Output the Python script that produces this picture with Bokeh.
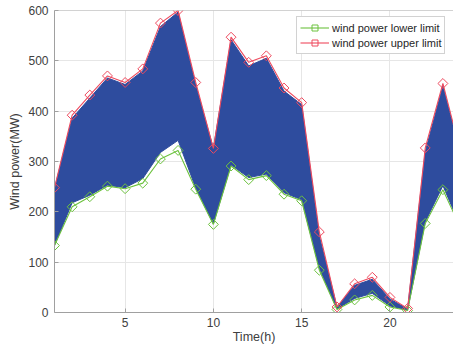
from bokeh.plotting import figure
from bokeh.models import Range1d, FixedTicker, Legend, LegendItem, Span
from bokeh.embed import file_html
from bokeh.resources import INLINE

hours = list(range(1, 25))
upper = [248, 392, 432, 470, 457, 484, 575, 600, 457, 326, 547, 497,
         510, 446, 417, 160, 11, 57, 70, 30, 8, 327, 455, 318]
lower = [133, 210, 230, 251, 246, 257, 305, 322, 245, 175, 291, 264,
         272, 235, 222, 84, 6, 25, 34, 11, 4, 177, 244, 168]
# envelope of the scenario band
band_hi = [246, 386, 426, 466, 453, 480, 568, 597, 452, 326, 542, 490,
           505, 440, 413, 152, 11, 54, 66, 27, 7, 320, 450, 314]
band_lo = [133, 218, 233, 253, 248, 266, 318, 342, 247, 176, 293, 268,
           275, 238, 224, 88, 7, 28, 38, 13, 5, 180, 252, 170]

x_ticks = [5, 10, 15, 20]
y_ticks = [0, 100, 200, 300, 400, 500, 600]

FONT = "Liberation Sans"
BLUE = "#2E4C9E"
RED = "#EE4A5E"
GREEN = "#6CC23E"

p = figure(width=453, height=346, output_backend="svg", toolbar_location=None,
           x_range=Range1d(1, 23.6), y_range=Range1d(0, 600),
           min_border_left=54, min_border_right=0, min_border_top=10,
           min_border_bottom=32)
p.outline_line_color = None
p.background_fill_color = "white"

p.varea(x=hours, y1=band_lo, y2=band_hi, fill_color=BLUE, fill_alpha=1.0)
p.line(hours, band_hi, line_color=BLUE, line_width=1)
p.line(hours, band_lo, line_color=BLUE, line_width=1)

rg = p.line(hours, lower, line_color=GREEN, line_width=1.1)
rgm = p.scatter(hours, lower, marker="square", angle=0.7854, size=7,
                fill_color=None, line_color=GREEN, line_width=1)
rr = p.line(hours, upper, line_color=RED, line_width=1.1)
rrm = p.scatter(hours, upper, marker="square", angle=0.7854, size=7,
                fill_color=None, line_color=RED, line_width=1)

p.add_layout(Span(location=600, dimension="width", line_color="#a6a6a6", line_width=1))

for ax in (p.xaxis[0], p.yaxis[0]):
    ax.axis_line_color = "#a0a0a0"
    ax.major_tick_line_color = "#a0a0a0"
    ax.major_tick_in = 4
    ax.major_tick_out = 0
    ax.minor_tick_line_color = None
    ax.major_label_text_font = FONT
    ax.major_label_text_font_size = "12px"
    ax.major_label_text_color = "#404040"
    ax.axis_label_text_font = FONT
    ax.axis_label_text_font_size = "12.5px"
    ax.axis_label_text_font_style = "normal"
    ax.axis_label_text_color = "#404040"

p.xaxis[0].ticker = FixedTicker(ticks=x_ticks)
p.yaxis[0].ticker = FixedTicker(ticks=y_ticks)
p.xaxis[0].axis_label = "Time(h)"
p.yaxis[0].axis_label = "Wind power(MW)"
p.xaxis[0].major_label_standoff = 5
p.xaxis[0].axis_label_standoff = 0
p.yaxis[0].major_label_standoff = 6
p.yaxis[0].axis_label_standoff = 3

p.xgrid[0].ticker = FixedTicker(ticks=x_ticks)
p.ygrid[0].ticker = FixedTicker(ticks=y_ticks)
p.grid.grid_line_color = "#e6e6e6"
p.grid.grid_line_width = 1
p.grid.level = "underlay"

legend = Legend(items=[
    LegendItem(label="wind power lower limit", renderers=[rg, rgm]),
    LegendItem(label="wind power upper limit", renderers=[rr, rrm]),
], location=(242, 258))
legend.label_text_font = FONT
legend.label_text_font_size = "11px"
legend.label_text_color = "#262626"
legend.glyph_width = 29
legend.glyph_height = 15
legend.label_standoff = 3
legend.label_height = 15
legend.padding = 3
legend.spacing = 0
legend.margin = 0
legend.border_line_color = "#a6a6a6"
legend.border_line_width = 1
legend.background_fill_color = "white"
legend.background_fill_alpha = 1.0
p.add_layout(legend)

open("out.html", "w").write(file_html(p, INLINE))
